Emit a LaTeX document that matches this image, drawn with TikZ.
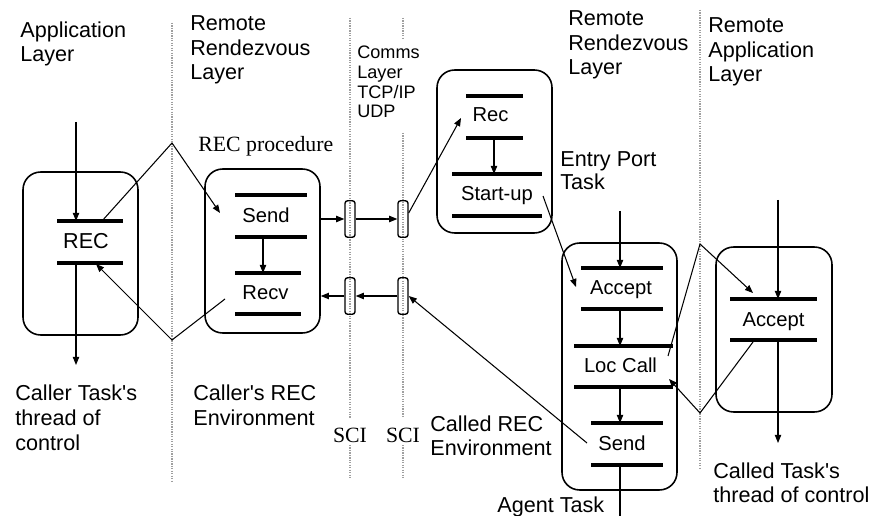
\documentclass[tikz,border=0pt]{standalone}
\usepackage{fontspec}
\newfontfamily\sansface{Liberation Sans}
\newfontfamily\timesfont{Liberation Serif}
\usetikzlibrary{arrows.meta}

\tikzset{
  layerline/.style={gray!75, line width=0.6pt, dash pattern=on 0.7pt off 0.7pt},
  taskbox/.style={draw, line width=0.9pt, rounded corners=10pt, minimum width=2.3cm, inner sep=0pt},
  scibox/.style={draw, line width=0.8pt, rounded corners=1.5pt, minimum width=0.2cm, minimum height=0.73cm, inner sep=0pt},
  tbar/.style={line width=1.8pt},
  flow/.style={line width=0.6pt, -{Triangle[length=4.6pt, width=3.6pt]}},
  wire/.style={line width=0.6pt},
  lbl/.style={inner sep=0pt, anchor=base west, align=left, font=\sansface\fontsize{12.3}{14.2}\selectfont},
  smalllbl/.style={lbl, font=\sansface\fontsize{10.3}{11.3}\selectfont},
  opname/.style={inner sep=0pt, font=\sansface\fontsize{11.5}{13}\selectfont},
  romanlbl/.style={inner sep=0pt, anchor=base west, font=\timesfont\fontsize{12.4}{14}\selectfont},
}

\begin{document}
\begin{tikzpicture}[x=0.02cm, y=-0.02cm]

  \useasboundingbox (0,0) rectangle (874,516);

  % layer boundaries
  \draw[layerline] (172,23) -- (172,481);
  \draw[layerline] (350,18) -- (350,418) (350,445) -- (350,477);
  \draw[layerline] (403,18) -- (403,38) (403,133) -- (403,418) (403,445) -- (403,477);
  \draw[layerline] (700,10) -- (700,468);

  % layer headings (placed at the baseline of their last line)
  \node[lbl] (applayer) at (20,62) {Application\\Layer};
  \node[lbl] (rrlayer) at (190,80) {Remote\\Rendezvous\\Layer};
  \node[smalllbl] (commslayer) at (357,118) {Comms\\Layer\\TCP/IP\\UDP};
  \node[lbl] (rrlayerR) at (568,75) {Remote\\Rendezvous\\Layer};
  \node[lbl] (rapplayer) at (708,82) {Remote\\Application\\Layer};

  % task boxes
  \node[taskbox, minimum height=3.26cm] (callbox) at (80.5,253.5) {};
  \node[taskbox, minimum height=3.28cm] (procbox) at (262.5,251) {};
  \node[taskbox, minimum height=3.26cm] (portbox) at (494.5,151.5) {};
  \node[taskbox, minimum height=4.94cm] (agentbox) at (619.5,366.5) {};
  \node[taskbox, minimum height=3.3cm, minimum width=2.32cm] (calledbox) at (774,329.5) {};

  % SCI boxes
  \node[scibox] (sciA) at (350,219) {};
  \node[scibox] (sciB) at (403,219) {};
  \node[scibox] (sciC) at (350,296) {};
  \node[scibox] (sciD) at (403,296) {};

  % operation bars
  \foreach \xa/\xb/\y in {57/123/221, 57/123/263, 235/307/195, 235/307/237,
      235/301/273, 235/301/314, 466/523/96, 466/523/138, 452/542/174, 452/542/216,
      581/663/268, 581/663/309, 574/673/346, 574/673/387, 591/663/423, 591/663/465,
      730/817/299, 730/817/340}
    \draw[tbar] (\xa,\y) -- (\xb,\y);

  % operation names
  \node[opname, font=\sansface\fontsize{12.3}{14}\selectfont] (rec) at (86,241) {REC};
  \node[opname] (send) at (266,215.5) {Send};
  \node[opname] (recv) at (265.5,293) {Recv};
  \node[opname] (recport) at (490.5,115) {Rec};
  \node[opname] (startup) at (497,196) {Start-up};
  \node[opname] (accept) at (621,289.5) {Accept};
  \node[opname] (loccall) at (620.5,365.5) {Loc Call};
  \node[opname] (sendback) at (622,443) {Send};
  \node[opname] (acceptE) at (773.5,321.5) {Accept};

  % other labels
  \node[romanlbl] (recproc) at (198,152) {REC procedure};
  \node[lbl, font=\sansface\fontsize{12.3}{13.1}\selectfont] (entrytask) at (560,190) {Entry Port\\Task};
  \node[lbl] (callerthread) at (15,450) {Caller Task's\\thread of\\control};
  \node[lbl] (callerenv) at (193,425) {Caller's REC\\Environment};
  \node[romanlbl, anchor=base] (sciL) at (350,442) {SCI};
  \node[romanlbl, anchor=base] (sciR) at (403,442) {SCI};
  \node[lbl, font=\sansface\fontsize{12.3}{13.1}\selectfont] (calledenv) at (430,455) {Called REC\\Environment};
  \node[lbl] (agenttask) at (497,512) {Agent Task};
  \node[lbl, font=\sansface\fontsize{12.3}{13.6}\selectfont] (calledthread) at (713,502) {Called Task's\\thread of control};

  % caller side
  \coordinate (callin) at (76,122);
  \coordinate (recT) at (76,221);
  \coordinate (recB) at (76,263);
  \coordinate (callout) at (76,365);
  \coordinate (recgo) at (102,221);
  \coordinate (peakA) at (172,143);
  \coordinate (sendin) at (220,213);
  \coordinate (recvgo) at (225,299);
  \coordinate (valleyA) at (172,340);
  \coordinate (recback) at (96,264);
  \coordinate (sendB) at (263,237);
  \coordinate (recvT) at (263,273);

  \draw[flow] (callin) -- (recT);
  \draw[flow] (recB) -- (callout);
  \draw[flow] (recgo) -- (peakA) -- (sendin);
  \draw[flow] (recvgo) -- (valleyA) -- (recback);
  \draw[flow] (sendB) -- (recvT);

  % through the comms layer
  \draw[flow] (procbox.east |- sciA.west) -- (sciA.west);
  \draw[flow] (sciA.east) -- (sciB.west);
  \draw[flow] (sciD.west) -- (sciC.east);
  \draw[flow] (sciC.west) -- (procbox.east |- sciC.west);

  % entry port and agent
  \coordinate (recin) at (461,118);
  \coordinate (recBC) at (494,138);
  \coordinate (startT) at (494,174);
  \coordinate (startgo) at (543,196);
  \coordinate (acceptin) at (576,287);
  \coordinate (agentin) at (620,211);
  \coordinate (accT) at (620,268);
  \coordinate (accB) at (620,309);
  \coordinate (locT) at (620,346);
  \coordinate (locB) at (620,387);
  \coordinate (sendT) at (620,423);
  \coordinate (sendBD) at (620,465);
  \coordinate (agentout) at (620,516);
  \coordinate (sendgo) at (587,443);

  \draw[flow] ([yshift=0.12cm]sciB.east) -- (recin);
  \draw[flow] (recBC) -- (startT);
  \draw[flow] (startgo) -- (acceptin);
  \draw[flow] (agentin) -- (accT);
  \draw[flow] (accB) -- (locT);
  \draw[flow] (locB) -- (sendT);
  \draw[wire] (sendBD) -- (agentout);
  \draw[flow] (sendgo) -- (sciD.east);

  % called task
  \coordinate (calledin) at (778,200);
  \coordinate (accET) at (778,299);
  \coordinate (accEB) at (778,340);
  \coordinate (calledout) at (778,443);
  \coordinate (locgo) at (668,356);
  \coordinate (peakB) at (700,244);
  \coordinate (accEin) at (753,293);
  \coordinate (accEgo) at (753,342);
  \coordinate (valleyB) at (700,413);
  \coordinate (locback) at (669,379);

  \draw[flow] (calledin) -- (accET);
  \draw[flow] (accEB) -- (calledout);
  \draw[flow] (locgo) -- (peakB) -- (accEin);
  \draw[flow] (accEgo) -- (valleyB) -- (locback);

\end{tikzpicture}
\end{document}
